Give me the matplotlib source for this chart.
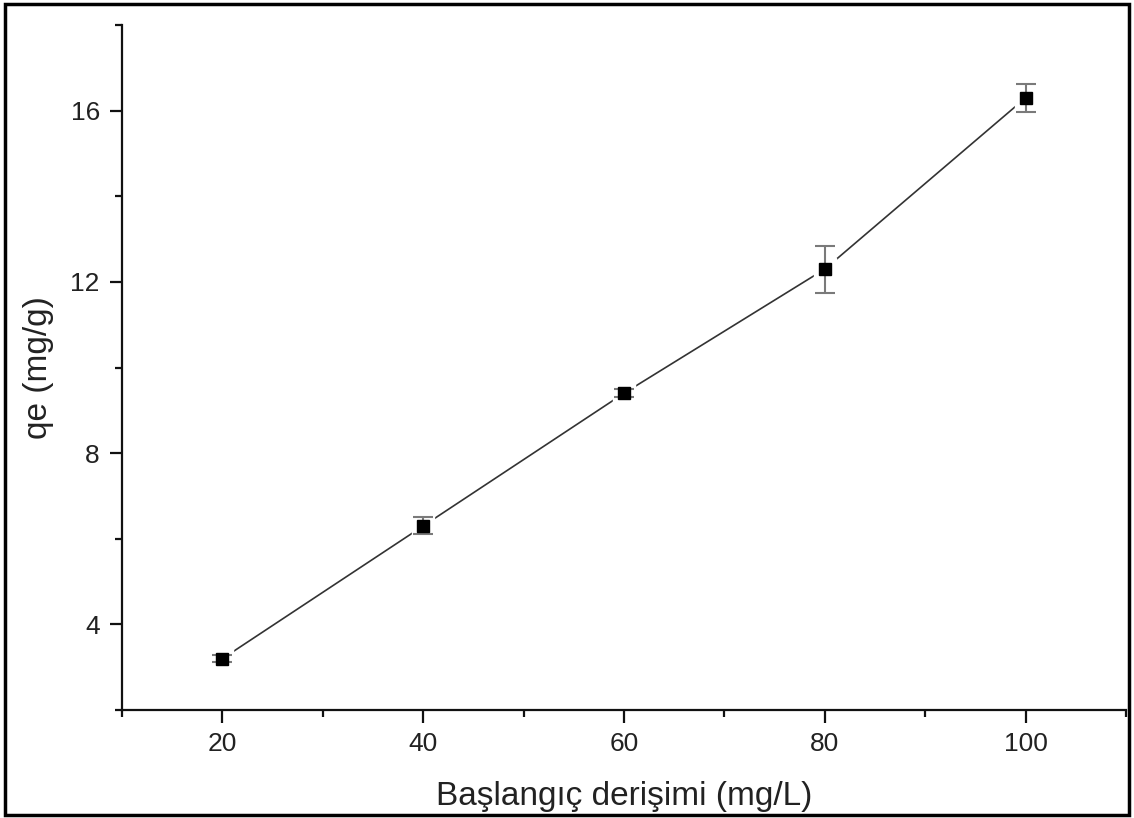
import matplotlib
matplotlib.use("Agg")
import matplotlib.pyplot as plt
from matplotlib.patches import Rectangle
from matplotlib.ticker import MultipleLocator

conc = [20, 40, 60, 80, 100]
qe = [3.2, 6.3, 9.4, 12.3, 16.3]
err = [0.08, 0.2, 0.1, 0.55, 0.33]

plt.rcParams['font.family'] = ['Liberation Sans', 'DejaVu Sans']

fig = plt.figure(figsize=(11.34, 8.18), dpi=100)
ax = fig.add_axes([0.1076, 0.132, 0.8854, 0.8374])

ax.plot(conc, qe, color='#333333', lw=1.2, zorder=1)
ax.plot(conc, qe, 's', ms=16, color='white', mec='white', zorder=2)
ax.errorbar(conc, qe, yerr=err, fmt='none', ecolor='#7a7a7a', elinewidth=1.5,
            capsize=7, capthick=1.5, zorder=3)
ax.plot(conc, qe, 's', ms=8.5, color='black', mec='black', zorder=4)

ax.set_xlim(10, 110)
ax.set_ylim(2, 18)
ax.xaxis.set_minor_locator(MultipleLocator(10))
ax.yaxis.set_minor_locator(MultipleLocator(2))
ax.set_xticks([20, 40, 60, 80, 100])
ax.set_yticks([4, 8, 12, 16])

for s in ['top', 'right']:
    ax.spines[s].set_visible(False)
for s in ['left', 'bottom']:
    ax.spines[s].set_linewidth(1.6)
    ax.spines[s].set_color('#111111')

ax.tick_params(which='major', direction='out', length=9, width=1.6, labelsize=19,
               colors='#111111', labelcolor='#222222', pad=7)
ax.tick_params(which='minor', direction='out', length=5, width=1.6, colors='#111111')

ax.set_xlabel('Başlangıç derişimi (mg/L)', fontsize=24, color='#222222', labelpad=18)
ax.set_ylabel('qe (mg/g)', fontsize=24, color='#222222', labelpad=12)

fig.patches.append(Rectangle((0.004, 0.004), 0.992, 0.991, transform=fig.transFigure,
                             fill=False, edgecolor='black', lw=2.5, zorder=10))

fig.savefig('out.png', dpi=100)
